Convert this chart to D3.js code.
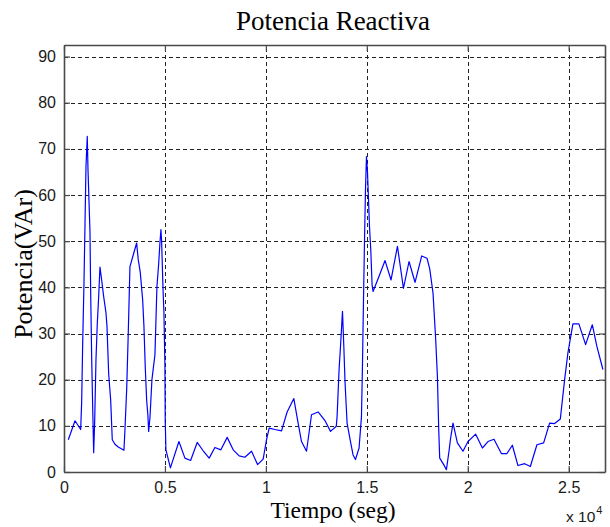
<!DOCTYPE html>
<html>
<head>
<meta charset="utf-8">
<script src="https://cdn.jsdelivr.net/npm/d3@7/dist/d3.min.js"></script>
<style>
  html, body { margin: 0; padding: 0; background: #fff; }
  svg { display: block; }
</style>
</head>
<body>
<svg id="chart" width="610" height="527"></svg>
<script>
// Reactive power measured over time (seconds) and its value in VAr
const tiempo = [
  213, 545, 827, 876, 926, 990, 1040, 1089, 1153, 1188, 1287, 1322, 1371, 1436, 1470,
  1520, 1584, 1648, 1718, 1782, 1866, 1965, 2079, 2129, 2213, 2312, 2391, 2525, 2688,
  2970, 3020, 3104, 3183, 3267, 3430, 3599, 3678, 3777, 3896, 3960, 4024, 4094, 4158,
  4193, 4257, 4356, 4505, 4604, 4688, 4752, 4802, 4836, 4901, 4950, 5000, 5015, 5049,
  5271, 5693, 5990, 6272, 6598, 6895, 7192, 7475, 7772, 8084, 8381, 8678, 8960, 9291,
  9588, 9866, 10034, 10163, 10445, 10776, 11053, 11385, 11598, 11766, 12014, 12261,
  12588, 12920, 13202, 13489, 13528, 13627, 13697, 13796, 13860, 13924, 14023, 14192,
  14320, 14439, 14617, 14736, 14786, 14835, 14885, 14934, 14984, 15033, 15083, 15132,
  15197, 15261, 15310, 15607, 15904, 16201, 16518, 16815, 17092, 17389, 17721, 17983,
  18117, 18280, 18414, 18498, 18563, 18612, 18810, 18944, 19072, 19142, 19270, 19488,
  19765, 20013, 20394, 20726, 21003, 21300, 21666, 21943, 22211, 22488, 22820, 23102,
  23428, 23760, 24057, 24305, 24587, 24800, 24963, 25210, 25507, 25839, 26171, 26398,
  26697
];
const potencia = [
  7.0, 11.1, 9.2, 15.3, 28, 41, 53.5, 66.2, 72.7, 65.6, 52, 38.6, 24.7, 11, 4.2,
  11, 24.3, 32, 38, 44.4, 41.6, 38, 34.5, 31.6, 21.3, 15.6, 7, 6, 5.4,
  4.7, 9.2, 17.8, 30, 44.5, 47, 49.6, 46, 43.3, 37.3, 31.6, 22.9, 15.6, 12.2,
  8.8, 11.7, 20, 25.4, 40.2, 45, 49.6, 52.5, 50, 40.2, 34.5, 22.9, 11, 4.8,
  0.9, 6.6, 3, 2.5, 6.4, 4.6, 3, 5.3, 4.8, 7.5, 4.8, 3.5, 3.2, 4.5,
  1.6, 2.8, 7, 9.5, 9.2, 8.9, 13, 15.9, 10.6, 6.6, 4.5, 12.4,
  13, 11.2, 8.8, 9.9, 12, 22.2, 27.2, 34.8, 27.4, 19.3, 10.6, 6.6,
  3.7, 2.7, 5.2, 12, 23.3, 36.9, 49.6, 61.1, 68.3, 65.1, 59.3, 53.3,
  48.1, 40.6, 39.1, 42.4, 45.8, 41.6, 48.9, 39.8, 45.6, 41.1, 46.8, 46.3,
  44, 38.8, 28.6, 20.7, 9.2, 3, 1.6, 0.5, 4.5, 7, 10.6, 6.3,
  4.5, 6.6, 8.2, 5.2, 6.6, 7.1, 4, 4, 5.8, 1.4, 1.8, 1.2,
  5.9, 6.3, 10.6, 10.5, 11.5, 20, 25.8, 32.1, 32.1, 27.6, 31.9, 27.2,
  22.2
];
const xTicks = [0, 5000, 10000, 15000, 20000, 25000];
const xTickLabels = ["0", "0.5", "1", "1.5", "2", "2.5"];
const yTicks = [0, 10, 20, 30, 40, 50, 60, 70, 80, 90];
const xDomain = [0, 26800];
const yDomain = [0, 92.5];

const svg = d3.select("#chart");
const box = { left: 64, right: 605, top: 45, bottom: 472 };

const x = d3.scaleLinear().domain(xDomain).range([box.left, box.right]);
const y = d3.scaleLinear().domain(yDomain).range([box.bottom, box.top]);

const serif = "'Liberation Serif', 'Times New Roman', serif";
const sans = "'Liberation Sans', Arial, sans-serif";

// Dashed grid
const grid = svg.append("g").attr("stroke", "#222").attr("stroke-width", 1)
  .attr("stroke-dasharray", "4,3").attr("shape-rendering", "crispEdges");
grid.selectAll("line.gx").data(xTicks.filter(d => d > 0)).join("line")
  .attr("x1", d => Math.round(x(d)) + 0.5).attr("x2", d => Math.round(x(d)) + 0.5)
  .attr("y1", box.bottom).attr("y2", box.top);
grid.selectAll("line.gy").data(yTicks.filter(d => d > 0)).join("line")
  .attr("y1", d => Math.round(y(d)) + 0.5).attr("y2", d => Math.round(y(d)) + 0.5)
  .attr("x1", box.left).attr("x2", box.right);

// Data line
const line = d3.line().x((d, i) => x(tiempo[i])).y(d => y(d));
svg.append("path")
  .datum(potencia)
  .attr("fill", "none")
  .attr("stroke", "#0000ff")
  .attr("stroke-width", 1.2)
  .attr("stroke-linejoin", "round")
  .attr("d", line);

// Axes (ticks point inward, box closed on all sides)
const tickLen = 6;
const axisColor = "#4a4a4a";
const axisBottom = d3.axisBottom(x).tickValues(xTicks)
  .tickFormat((d, i) => xTickLabels[i]).tickSizeInner(-tickLen).tickSizeOuter(0).tickPadding(10);
const axisLeft = d3.axisLeft(y).tickValues(yTicks)
  .tickSizeInner(-tickLen).tickSizeOuter(0).tickPadding(8);
const axisTop = d3.axisTop(x).tickValues(xTicks).tickFormat("").tickSizeInner(-tickLen).tickSizeOuter(0);
const axisRight = d3.axisRight(y).tickValues(yTicks).tickFormat("").tickSizeInner(-tickLen).tickSizeOuter(0);

function styleAxis(g) {
  g.selectAll("path.domain").attr("stroke", axisColor).attr("stroke-width", 1.6);
  g.selectAll(".tick line").attr("stroke", axisColor).attr("stroke-width", 1.2);
  g.selectAll("text").attr("font-family", sans).attr("font-size", 16).attr("fill", "#1a1a1a");
}

svg.append("g").attr("transform", `translate(0,${box.bottom})`).call(axisBottom).call(styleAxis);
svg.append("g").attr("transform", `translate(${box.left},0)`).call(axisLeft).call(styleAxis);
svg.append("g").attr("transform", `translate(0,${box.top})`).call(axisTop).call(styleAxis);
svg.append("g").attr("transform", `translate(${box.right},0)`).call(axisRight).call(styleAxis);

// Exponent marker for the x axis
const expo = svg.append("text")
  .attr("x", 566).attr("y", 522)
  .attr("font-family", sans).attr("font-size", 15.5).attr("fill", "#1a1a1a");
expo.append("tspan").text("x 10");
expo.append("tspan").attr("dy", -8).attr("dx", 1).attr("font-size", 11).text("4");

// Title and axis labels
svg.append("text")
  .attr("x", 333).attr("y", 30)
  .attr("text-anchor", "middle")
  .attr("font-family", serif).attr("font-size", 27).attr("fill", "#000")
  .text("Potencia Reactiva");

svg.append("text")
  .attr("x", 333).attr("y", 518)
  .attr("text-anchor", "middle")
  .attr("font-family", serif).attr("font-size", 23.5).attr("fill", "#000")
  .text("Tiempo (seg)");

svg.append("text")
  .attr("transform", "translate(32,264) rotate(-90)")
  .attr("text-anchor", "middle")
  .attr("font-family", serif).attr("font-size", 26).attr("fill", "#000")
  .text("Potencia(VAr)");
</script>
</body>
</html>
